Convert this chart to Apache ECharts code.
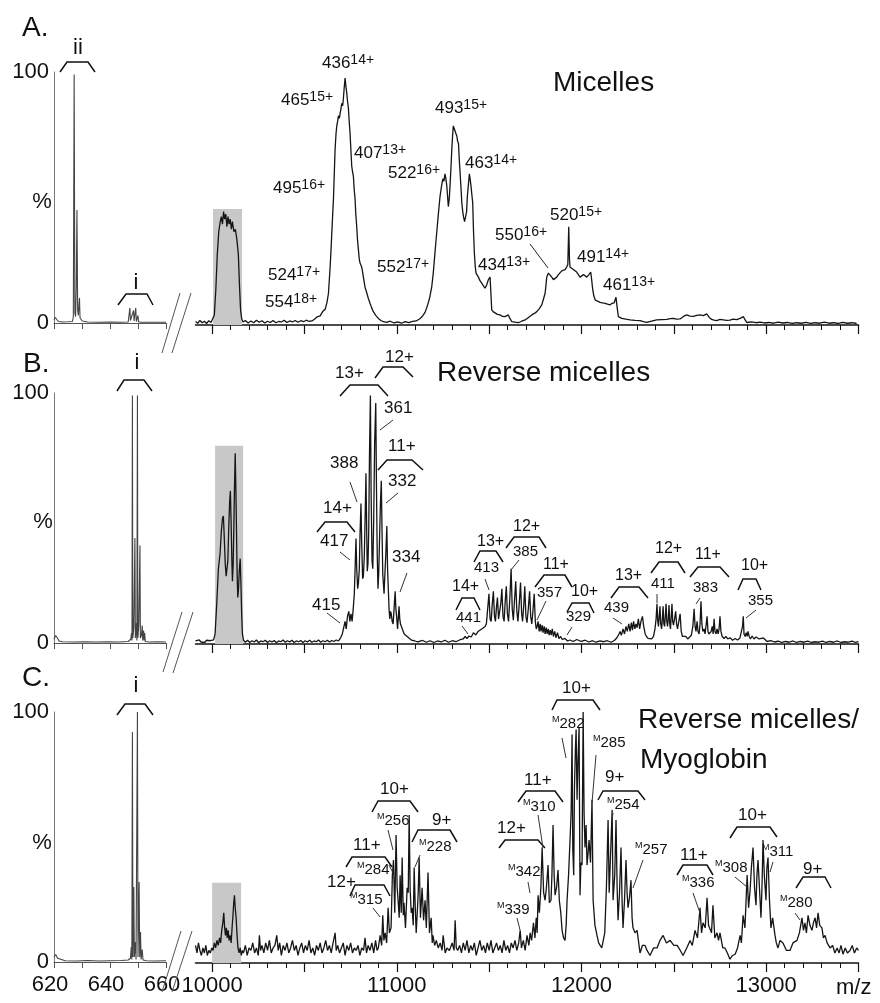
<!DOCTYPE html>
<html>
<head>
<meta charset="utf-8">
<script src="https://cdn.jsdelivr.net/npm/echarts@6.0.0/dist/echarts.min.js"></script>
<style>
html,body{margin:0;padding:0;background:#fff;}
#chart{width:880px;height:1003px;}
</style>
</head>
<body>
<div id="chart"></div>
<script>
// ---------------- DATA (m/z, relative intensity %) ----------------
const specA_left = [[620,1.2],[620.5,2.2],[621,1.4],[621.6,0.6],[623,0.4],[625,0.5],[626.6,0.6],[626.9,2.5],[627.2,99],[627.45,4],[627.7,2.5],[627.95,14],[628.2,45],[628.45,5],[628.7,3],[628.9,7],[629.1,10],[629.3,2],[629.7,1.5],[630.1,0.8],[632,0.4],[636,0.3],[640,0.4],[644,0.3],[646.5,0.4],[646.9,1],[647.1,6],[647.3,1],[648.0,1.5],[648.4,5],[648.6,0.8],[649.0,1],[649.2,6],[649.4,0.6],[649.8,1],[650.0,3],[650.2,0.5],[651,0.3],[655,0.3],[660,0.3]];
const specB_left = [[620,1.5],[620.6,3],[621.2,2],[621.8,0.8],[623,0.5],[627,0.4],[631,0.5],[635,0.4],[639,0.5],[643,0.4],[646.5,0.6],[647.4,1.5],[647.7,4],[647.85,1],[648.0,99],[648.15,2],[648.5,6],[648.9,42],[649.05,2],[649.4,8],[649.6,1],[649.8,99],[649.95,2],[650.3,7],[650.7,39],[650.85,2],[651.2,3],[651.5,7],[651.7,1],[652.0,5],[652.2,1],[652.4,4],[652.6,0.6],[654,0.4],[657,0.5],[660,0.4]];
const specC_left = [[620,2],[620.6,3],[621.3,1.5],[622,0.8],[624,0.5],[628,0.4],[632,0.6],[636,0.4],[640,0.5],[644,0.6],[646.5,0.8],[647.3,1.5],[647.6,6],[647.8,1],[648.0,92],[648.2,2],[648.5,30],[648.7,2],[649.1,8],[649.3,1],[649.8,100],[650.0,2],[650.4,32],[650.6,2],[650.9,12],[651.1,1],[651.5,5],[651.8,0.8],[653,0.5],[656,0.4],[660,0.5]];

const specA_right = [[9910,1.4],[9922,0.7],[9934,1.8],[9946,0.9],[9958,1.5],[9970,0.6],[9982,1.7],[9994,1.0],[10004,1.6],[10012,4],[10020,14],[10028,28],[10036,37],[10044,41],[10050,43],[10056,40],[10062,45],[10068,42],[10074,44],[10080,39],[10086,43],[10092,40],[10098,42],[10104,38],[10110,41],[10118,37],[10126,38],[10134,34],[10142,28],[10148,16],[10154,6],[10160,2.5],[10168,1.2],[10180,1.8],[10195,0.8],[10210,1.6],[10225,0.9],[10240,1.9],[10255,1.1],[10270,1.7],[10285,0.8],[10300,1.5],[10315,1.0],[10330,1.8],[10345,0.9],[10360,1.4],[10375,1.2],[10390,1.9],[10405,1.0],[10420,1.6],[10435,1.2],[10450,1.8],[10465,1.1],[10480,1.7],[10495,1.3],[10510,1.9],[10525,1.4],[10540,1.6],[10552,2.2],[10568,3.2],[10585,3.6],[10600,5.5],[10612,6.2],[10622,9],[10630,12.6],[10639,23],[10644,30],[10648,36.5],[10653,44],[10657,50],[10662,61],[10666,70],[10671,76],[10675,79],[10680,81],[10684,83],[10689,82],[10693,84],[10698,86],[10702,88],[10707,87],[10711,90],[10715,94],[10720,98],[10724,95],[10729,92],[10733,89],[10738,86],[10742,81],[10747,76],[10751,70],[10756,63],[10760,61],[10765,59],[10769,54],[10774,50],[10778,44],[10783,39],[10787,34],[10792,30],[10797,26],[10801,24.6],[10806,24],[10810,23],[10815,21],[10819,19],[10828,15],[10838,12.6],[10846,10.5],[10855,8.6],[10864,6.8],[10873,5.3],[10886,3.8],[10900,2.6],[10914,1.8],[10927,1.3],[10945,1.0],[10965,1.5],[10985,0.8],[11005,1.2],[11025,0.7],[11045,1.3],[11065,0.9],[11085,1.4],[11105,1.6],[11125,2.5],[11140,3.6],[11153,5],[11165,7.5],[11177,10.5],[11189,15],[11198,21],[11207,29],[11216,36.5],[11225,44],[11234,51],[11242,55],[11249,58],[11255,57],[11261,60],[11266,58],[11271,55],[11275,51],[11279,47],[11284,50],[11288,55],[11293,62],[11298,70],[11302,75],[11306,79],[11311,78],[11316,78],[11320,76],[11325,75],[11329,73],[11334,72],[11338,66],[11343,60],[11348,54],[11352,48.5],[11357,45],[11361,43],[11367,41],[11374,40.5],[11378,45],[11382,51],[11388,56],[11393,60],[11397,58],[11402,55],[11406,52],[11411,48.5],[11415,38],[11420,28.6],[11425,23],[11429,20.6],[11435,20],[11442,19],[11451,17.5],[11460,16.6],[11469,15.5],[11478,14.6],[11487,16],[11496,18],[11505,19],[11510,12],[11514,6],[11523,5.2],[11532,4.6],[11545,4.2],[11559,4],[11572,3.4],[11586,3.3],[11595,3.8],[11604,4],[11613,2.5],[11623,1.3],[11640,1.1],[11658,0.9],[11676,1.5],[11695,2],[11713,3],[11731,4],[11745,4.6],[11758,5.3],[11772,6.5],[11785,8],[11795,10.5],[11803,12.6],[11808,16],[11812,19],[11821,20.6],[11830,20.6],[11839,19],[11848,18],[11857,18.5],[11866,19],[11875,20],[11884,20.6],[11893,21.5],[11902,21],[11911,22],[11920,23],[11926,24],[11931,39],[11935,26],[11938,23],[11947,23],[11956,22],[11965,21.5],[11974,21],[11983,20],[11992,19],[12001,19.5],[12011,20],[12020,19.5],[12029,19],[12040,20],[12050,21],[12055,18],[12061,14],[12067,11.5],[12074,10],[12087,9.5],[12101,9],[12114,8.8],[12128,8.6],[12141,8.3],[12155,8],[12166,8.6],[12177,8.8],[12183,9.5],[12187,11],[12193,7],[12200,3.3],[12210,2.8],[12218,2.6],[12240,2.3],[12263,2],[12290,1.8],[12317,1.7],[12335,1.3],[12353,1],[12380,1.5],[12407,2],[12435,2.1],[12462,2.2],[12480,2.5],[12497,2.6],[12515,2.3],[12534,2.4],[12552,3.4],[12570,4],[12588,3.5],[12606,3.4],[12624,3.8],[12642,4],[12660,3.7],[12678,4.4],[12692,3],[12705,2.2],[12718,1.9],[12732,1.7],[12750,2.2],[12768,2],[12786,1.8],[12804,1.9],[12822,2.3],[12840,2.1],[12859,2.6],[12868,3],[12877,3.3],[12886,2],[12895,1],[12920,1.2],[12945,0.9],[12967,1.1],[12990,0.8],[13015,1.0],[13040,0.7],[13065,1.1],[13090,0.8],[13115,1.0],[13140,0.6],[13165,0.9],[13190,0.7],[13215,1.0],[13240,0.6],[13265,0.9],[13290,0.7],[13315,1.1],[13340,0.7],[13365,0.9],[13390,0.6],[13415,1.0],[13440,0.7],[13465,0.9],[13490,0.6]];

const specB_right = [[9910,1.2],[9920,0.5],[9930,1.6],[9940,0.8],[9950,1.4],[9960,0.6],[9970,1.5],[9980,0.9],[9990,1.3],[10000,0.8],[10008,1.6],[10016,4],[10025,16],[10034,30],[10043,36],[10050,45],[10056,50],[10061,51],[10066,42],[10071,32],[10076,27],[10080,26.5],[10085,33],[10090,46],[10095,57],[10099,61],[10103,48],[10107,33],[10110,25],[10114,32],[10118,48],[10121,62],[10125,76],[10129,60],[10133,40],[10136,26],[10139,18.5],[10143,22],[10147,29],[10152,34],[10156,24],[10160,12],[10164,4],[10170,1.5],[10180,0.7],[10192,1.5],[10204,0.6],[10216,1.3],[10228,0.8],[10240,1.6],[10252,0.5],[10264,1.2],[10276,0.9],[10288,1.5],[10300,0.6],[10312,1.3],[10324,0.8],[10336,1.4],[10348,0.5],[10360,1.2],[10372,0.9],[10384,1.6],[10396,0.7],[10408,1.3],[10420,0.8],[10432,1.5],[10444,0.6],[10456,1.2],[10468,0.9],[10480,1.4],[10492,0.6],[10504,1.3],[10516,0.8],[10528,1.5],[10540,0.7],[10552,1.2],[10564,0.9],[10576,1.6],[10588,0.7],[10600,1.3],[10612,0.9],[10624,1.5],[10636,0.8],[10648,1.4],[10660,1.0],[10672,1.6],[10684,1.2],[10694,2.2],[10705,4],[10714,7],[10720,9],[10726,6],[10733,11],[10740,13],[10746,9],[10752,12],[10758,9],[10764,14],[10770,20],[10775,32],[10779,42],[10783,30],[10788,22],[10792,24],[10797,30],[10801,44],[10806,56],[10810,40],[10815,26],[10819,27],[10824,35],[10829,52],[10833,68],[10837,45],[10840,29],[10844,32],[10848,45],[10852,75],[10857,99],[10861,60],[10866,33],[10870,30],[10875,50],[10880,80],[10886,96],[10890,62],[10894,36],[10898,22],[10902,28],[10906,40],[10911,55],[10916,65],[10920,45],[10924,28],[10931,20],[10935,27],[10940,35],[10946,47],[10950,30],[10954,22],[10958,14],[10962,10],[10966,13],[10970,12],[10975,9],[10980,8],[10986,15],[10991,21],[10995,14],[10999,11],[11004,6],[11008,10],[11012,15],[11016,10],[11020,8],[11025,7],[11030,6],[11035,5],[11040,4],[11048,3.5],[11056,3],[11066,2.5],[11080,1.5],[11095,1.3],[11110,0.9],[11121,1],[11140,1.4],[11160,0.7],[11180,1.3],[11200,0.6],[11220,1.2],[11240,0.8],[11260,1.5],[11280,0.7],[11300,1.3],[11320,0.9],[11340,1.6],[11359,2],[11370,3],[11380,2.2],[11391,3.2],[11403,2.8],[11415,4.5],[11428,3.6],[11440,5],[11450,4.4],[11460,6],[11470,5.5],[11478,7],[11485,8],[11492,14],[11499,20],[11505,10],[11511,9],[11517,16],[11523,21],[11529,11],[11534,9],[11540,15],[11545,18.5],[11551,10],[11557,9.5],[11563,16],[11569,22],[11575,11],[11581,9],[11587,17],[11593,23],[11599,12],[11605,9],[11612,18],[11619,30],[11625,14],[11631,9.5],[11637,17],[11644,25],[11650,13],[11656,9],[11663,16],[11670,24.5],[11676,12],[11681,9],[11687,15],[11693,23],[11699,11],[11705,8.5],[11712,14],[11719,21],[11725,11],[11731,8],[11737,13],[11744,20],[11750,9],[11755,6],[11760,7],[11765,9],[11771,5],[11776,8],[11781,5],[11787,7.5],[11792,4.5],[11798,7],[11803,4],[11809,6.5],[11814,4],[11820,6],[11825,3.5],[11831,5.5],[11836,3.5],[11842,6],[11848,3],[11855,5],[11862,2.5],[11870,4.5],[11878,2.2],[11887,3],[11896,1.8],[11910,2.2],[11925,1.2],[11938,1.6],[11955,1.0],[11975,1.8],[11998,1.0],[12020,1.5],[12040,0.8],[12060,1.3],[12079,0.7],[12100,1.2],[12120,0.9],[12140,1.3],[12160,0.7],[12178,1.4],[12192,2.5],[12203,4],[12209,5],[12216,3.5],[12225,6],[12233,4],[12241,7],[12248,5],[12256,8],[12263,5],[12270,8.5],[12276,5.5],[12282,9],[12289,6],[12295,8],[12301,6.5],[12308,10],[12315,6],[12322,9],[12330,11],[12337,7],[12345,4],[12352,3],[12360,2.2],[12370,2.6],[12380,2],[12390,3],[12398,6],[12404,10],[12409,16],[12413,9],[12417,7],[12421,11],[12425,15],[12429,8],[12434,6],[12438,10],[12442,15],[12446,8],[12450,7],[12454,11],[12458,16],[12462,9],[12466,7],[12470,10],[12474,15.5],[12478,8],[12482,6],[12486,11],[12490,16],[12494,9],[12498,7.5],[12504,10],[12510,13],[12515,8],[12520,6],[12527,9],[12534,12],[12540,5],[12547,3],[12555,2.5],[12565,3],[12575,2],[12585,2.4],[12595,3.5],[12603,7],[12610,14],[12615,7],[12620,5],[12626,9],[12631,5],[12637,4],[12642,8],[12647,17],[12652,8],[12657,5],[12664,6],[12669,4],[12674,7],[12680,11],[12685,5],[12690,4],[12696,3.5],[12702,5],[12708,7],[12713,4],[12718,10],[12723,5],[12729,4],[12734,6],[12740,4],[12745,6],[12750,11],[12755,5],[12762,3],[12772,2.2],[12782,3],[12792,2],[12804,2.5],[12818,1.5],[12832,2.2],[12845,1.6],[12858,2.4],[12866,3],[12872,7],[12876,11],[12880,4],[12886,3],[12892,4.5],[12897,3],[12902,5],[12908,3],[12915,2],[12924,3.2],[12934,2],[12945,2.8],[12962,2],[12985,2.4],[13005,1.0],[13025,1.3],[13045,0.8],[13065,1.1],[13085,0.6],[13105,1.0],[13125,0.7],[13145,1.2],[13165,0.6],[13185,1.0],[13205,0.7],[13225,1.1],[13245,0.6],[13265,0.9],[13285,0.7],[13305,1.1],[13325,0.6],[13345,1.0],[13365,0.7],[13385,1.2],[13405,0.6],[13425,0.9],[13445,0.7],[13465,1.1],[13485,0.6],[13500,0.9]];

const specC_right = [[9910,7],[9918,4],[9926,8],[9934,5],[9942,3],[9950,6],[9958,4],[9966,7],[9974,3],[9982,5],[9990,4],[9998,6],[10005,5],[10012,8],[10019,6],[10026,9],[10033,7],[10040,10],[10046,8],[10052,13],[10058,16],[10063,20],[10067,15],[10072,11],[10077,14],[10082,10],[10087,13],[10092,9],[10098,11],[10103,8],[10108,14],[10113,19],[10117,24],[10121,27],[10125,22],[10130,18],[10135,11],[10140,6],[10146,4],[10152,6],[10158,3],[10164,5],[10170,4],[10180,7],[10190,3],[10200,6],[10210,5],[10220,8],[10230,4],[10240,6],[10250,3],[10256,11],[10262,5],[10270,7],[10280,4],[10290,8],[10300,5],[10310,9],[10320,4],[10330,6],[10340,7],[10350,11],[10358,5],[10366,8],[10375,3],[10385,7],[10395,5],[10405,8],[10415,4],[10425,6],[10435,9],[10445,5],[10455,7],[10465,3],[10475,6],[10485,8],[10495,4],[10505,7],[10515,5],[10525,9],[10535,4],[10545,6],[10555,3],[10565,7],[10575,5],[10585,8],[10595,4],[10605,6],[10615,9],[10625,5],[10635,7],[10645,4],[10655,8],[10666,12],[10672,5],[10680,7],[10690,4],[10700,6],[10710,8],[10720,3],[10730,7],[10740,5],[10750,8],[10760,4],[10770,6],[10780,5],[10790,7],[10800,3],[10810,6],[10820,5],[10828,10],[10836,4],[10845,7],[10855,5],[10865,8],[10875,4],[10885,9],[10893,5],[10900,6],[10910,11],[10918,7],[10924,19],[10930,9],[10937,12],[10945,8],[10953,22],[10960,12],[10969,14],[10976,35],[10982,41],[10989,20],[10996,51],[11002,30],[11007,25],[11013,18],[11018,35],[11024,20],[11029,42],[11035,19],[11039,24],[11047,14],[11056,30],[11062,28],[11067,59],[11072,30],[11078,20],[11083,22],[11089,15],[11094,38],[11100,22],[11105,12],[11110,19],[11116,28],[11121,42],[11128,18],[11137,30],[11145,17],[11153,25],[11160,14],[11169,36],[11177,12],[11186,18],[11192,8],[11196,11],[11205,7],[11214,9],[11224,6],[11235,8],[11245,5],[11251,11],[11262,4],[11272,6],[11285,5],[11300,8],[11310,5],[11316,17],[11322,6],[11330,5],[11340,7],[11350,4],[11360,8],[11370,5],[11380,9],[11390,4],[11400,7],[11410,5],[11420,8],[11430,3],[11440,6],[11450,9],[11460,5],[11470,7],[11480,4],[11490,8],[11500,5],[11510,9],[11520,4],[11530,6],[11540,8],[11550,5],[11560,7],[11570,4],[11580,9],[11590,5],[11600,7],[11610,4],[11620,8],[11630,6],[11640,9],[11650,5],[11660,8],[11668,13],[11675,6],[11685,9],[11695,5],[11705,11],[11715,7],[11722,12],[11730,9],[11740,16],[11748,10],[11755,18],[11760,12],[11765,27],[11772,20],[11780,30],[11787,46],[11795,28],[11803,25],[11810,30],[11819,39],[11826,24],[11835,25],[11840,35],[11846,55],[11852,35],[11857,27],[11865,30],[11873,37],[11880,25],[11888,20],[11895,13],[11903,10],[11911,9],[11917,15],[11922,25],[11930,35],[11938,49],[11944,60],[11949,91],[11953,45],[11958,35],[11962,70],[11967,85],[11971,93],[11976,65],[11981,80],[11987,94],[11992,27],[11997,40],[12003,39],[12009,100],[12014,60],[12019,46],[12025,55],[12030,39],[12036,44],[12041,49],[12049,40],[12057,65],[12063,25],[12073,15],[12084,11],[12093,8],[12101,7],[12110,6],[12117,6],[12126,12],[12135,30],[12144,57],[12150,28],[12156,40],[12166,61],[12171,25],[12180,35],[12187,57],[12193,30],[12198,17],[12206,28],[12214,46],[12220,24],[12225,14],[12233,25],[12241,41],[12247,28],[12252,22],[12260,26],[12268,33],[12274,18],[12279,14],[12290,12],[12301,13],[12310,8],[12317,4],[12330,7],[12344,7],[12355,5],[12371,3],[12390,6],[12409,6],[12425,9],[12442,11],[12460,8],[12480,9],[12500,7],[12518,7],[12535,5],[12550,3],[12570,6],[12588,9],[12600,7],[12615,13],[12628,10],[12642,22],[12650,12],[12658,16],[12670,14],[12680,26],[12688,15],[12696,15],[12704,12],[12712,23],[12722,10],[12734,12],[12742,9],[12750,12],[12765,6],[12777,6],[12790,4],[12804,1.5],[12818,3],[12832,3.5],[12845,6],[12859,11],[12866,8],[12875,19],[12885,14],[12897,35],[12905,22],[12913,29],[12920,38],[12929,46],[12937,30],[12945,23],[12950,35],[12956,41],[12965,28],[12972,18],[12978,32],[12983,49],[12990,35],[12999,25],[13004,38],[13010,42],[13018,25],[13026,14],[13035,18],[13048,11],[13055,8],[13064,6],[13075,9],[13091,8],[13110,5],[13129,5],[13145,8],[13167,9],[13180,12],[13194,18],[13202,13],[13210,16],[13218,12],[13227,19],[13237,15],[13248,13],[13256,16],[13265,18],[13273,14],[13281,20],[13290,15],[13302,14],[13310,10],[13319,11],[13330,8],[13346,6],[13360,7],[13372,4],[13384,6],[13395,4],[13405,7],[13416,3.5],[13428,6],[13440,4],[13454,5],[13466,7],[13478,4],[13490,6],[13500,5]];

// shaded boxes: [from m/z, to m/z, top %]
const boxA = [10005, 10162, 46];
const boxB = [10016, 10168, 79];
const boxC = [10000, 10157, 32];

// tick values / labels
const leftTickLabels = [620, 640, 660];
const rightTickLabels = [10000, 11000, 12000, 13000];
const rightMajorTicks = [10000, 10500, 11000, 11500, 12000, 12500, 13000, 13500];
const rightMinorTicks = [];
for (let v = 10000; v <= 13500; v += 100) rightMinorTicks.push(v);

// ---------------- LAYOUT ----------------
const FONT = '"Liberation Sans", Arial, Helvetica, sans-serif';
const grids = [
  {left: 54, top: 72, width: 112, height: 251},
  {left: 195.5, top: 73, width: 663, height: 252},
  {left: 54, top: 393, width: 112, height: 250},
  {left: 195.5, top: 393, width: 663, height: 251},
  {left: 54, top: 712, width: 112, height: 250},
  {left: 195.5, top: 712, width: 663, height: 251}
];

const xAxes = [];
const yAxes = [];
for (let p = 0; p < 3; p++) {
  const isBottom = p === 2;
  xAxes.push({
    gridIndex: p * 2, type: 'value', min: 620, max: 660, interval: 10, position: 'bottom',
    axisLine: {lineStyle: {color: '#555', width: 1}},
    axisTick: {length: 6, lineStyle: {color: '#555', width: 1}},
    axisLabel: {show: isBottom, fontSize: 22, fontFamily: FONT, color: '#111', margin: 12,
      padding: [0, 8, 0, 0],
      formatter: v => leftTickLabels.indexOf(v) >= 0 ? String(v) : ''},
    splitLine: {show: false}
  });
  xAxes.push({
    gridIndex: p * 2 + 1, type: 'value', min: 9910, max: 13500, position: 'bottom',
    axisLine: {lineStyle: {color: '#111', width: 1.5}},
    axisTick: {customValues: rightMajorTicks, length: 9, lineStyle: {color: '#111', width: 1.2}},
    axisLabel: {show: isBottom, customValues: rightTickLabels, fontSize: 22, fontFamily: FONT, color: '#111', margin: 12,
      formatter: v => String(v)},
    splitLine: {show: false}
  });
  yAxes.push({
    gridIndex: p * 2, type: 'value', min: 0, max: 100, interval: 100,
    axisLine: {show: true, lineStyle: {color: '#777', width: 1}},
    axisTick: {show: false},
    axisLabel: {fontSize: 22, fontFamily: FONT, color: '#111', margin: 5},
    splitLine: {show: false}
  });
  yAxes.push({gridIndex: p * 2 + 1, type: 'value', min: 0, max: 100, show: false, splitLine: {show: false}});
}
for (let p = 0; p < 3; p++) {
  xAxes.push({
    gridIndex: p * 2 + 1, type: 'value', min: 9910, max: 13500, position: 'bottom',
    axisLine: {show: false},
    axisTick: {customValues: rightMinorTicks, length: 5, lineStyle: {color: '#111', width: 1}},
    axisLabel: {show: false},
    splitLine: {show: false}
  });
}

function specSeries(data, axis, color, w) {
  return {type: 'line', xAxisIndex: axis, yAxisIndex: axis, data: data, showSymbol: false, symbol: 'none',
    sampling: 'none', z: 3, silent: true, lineStyle: {color: color, width: w}};
}
function boxSeries(box, axis) {
  return {type: 'line', xAxisIndex: axis, yAxisIndex: axis, data: [[box[0], 0]], showSymbol: false, symbol: 'none',
    z: 1, silent: true, lineStyle: {width: 0, opacity: 0},
    markArea: {silent: true, itemStyle: {color: '#c8c8c8', opacity: 1},
      data: [[{coord: [box[0], 0]}, {coord: [box[1], box[2]]}]]}};
}

const series = [
  boxSeries(boxA, 1), boxSeries(boxB, 3), boxSeries(boxC, 5),
  specSeries(specA_left, 0, '#444', 1.1), specSeries(specA_right, 1, '#151515', 1.3),
  specSeries(specB_left, 2, '#444', 1.1), specSeries(specB_right, 3, '#151515', 1.3),
  specSeries(specC_left, 4, '#444', 1.1), specSeries(specC_right, 5, '#151515', 1.3)
];

// ---------------- ANNOTATIONS (pixel layout) ----------------
const G = [];
function text(t, x, y, size, align) {
  G.push({type: 'text', x: x, y: y, z: 10, silent: true,
    style: {text: t, fontSize: size, fontFamily: FONT, fill: '#111',
      align: align || 'left', verticalAlign: 'middle', textAlign: align || 'left', textVerticalAlign: 'middle'}});
}
function supText(x, y, num, sup) {
  G.push({type: 'text', x: x, y: y, z: 10, silent: true,
    style: {text: '{n|' + num + '}{s|' + sup + '}', fill: '#111', align: 'left', verticalAlign: 'middle',
      textAlign: 'left', textVerticalAlign: 'middle',
      rich: {n: {fontSize: 17, fontFamily: FONT, fill: '#111', lineHeight: 20},
             s: {fontSize: 14, fontFamily: FONT, fill: '#111', lineHeight: 12, verticalAlign: 'top'}}}});
}
function mText(x, y, num) {
  G.push({type: 'text', x: x, y: y, z: 10, silent: true,
    style: {text: '{m|M}{n|' + num + '}', fill: '#111', align: 'left', verticalAlign: 'middle',
      textAlign: 'left', textVerticalAlign: 'middle',
      rich: {m: {fontSize: 9, fontFamily: FONT, fill: '#111', lineHeight: 10, verticalAlign: 'top'},
             n: {fontSize: 15, fontFamily: FONT, fill: '#111', lineHeight: 18}}}});
}
function poly(pts, w) {
  G.push({type: 'polyline', z: 10, silent: true, shape: {points: pts}, style: {stroke: '#111', lineWidth: w || 1.5, fill: null}});
}
function seg(a, w, c) {
  G.push({type: 'line', z: 10, silent: true, shape: {x1: a[0], y1: a[1], x2: a[2], y2: a[3]}, style: {stroke: c || '#222', lineWidth: w || 1}});
}

// panel letters and titles
text('A.', 22, 28, 28); text('B.', 23, 364, 28); text('C.', 22, 678, 28);
text('Micelles', 553, 83, 28);
text('Reverse micelles', 437, 373, 28);
text('Reverse micelles/', 638, 720, 28);
text('Myoglobin', 640, 760, 28);
text('%', 42, 202, 22, 'center'); text('%', 43, 522, 22, 'center'); text('%', 42, 843, 22, 'center');
text('m/z', 836, 988, 22);
text('ii', 78, 48, 22, 'center'); text('i', 136, 283, 22, 'center');
text('i', 137, 363, 22, 'center'); text('i', 136, 686, 22, 'center');

// axis break marks
[[162,353,180,293],[172,353,191,293],[163,672,182,612],[173,673,193,612],[162,992,181,931],[172,992,192,931]]
  .forEach(s => seg(s, 1, '#555'));

// Panel A labels
[[322,63,'436','14+'],[281,100,'465','15+'],[273,188,'495','16+'],[354,153,'407','13+'],[388,173,'522','16+'],
 [268,275,'524','17+'],[265,302,'554','18+'],[377,267,'552','17+'],[435,108,'493','15+'],[465,163,'463','14+'],
 [478,265,'434','13+'],[495,235,'550','16+'],[550,215,'520','15+'],[577,257,'491','14+'],[603,285,'461','13+']]
  .forEach(a => supText(a[0], a[1], a[2], a[3]));
seg([530,244,548,268]);

// Panel B labels
[['13+',335,373,17],['12+',385,357,17],['361',384,408,17],['11+',388,446,17],['388',330,463,17],['332',388,481,17],
 ['14+',323,508,17],['417',320,541,17],['334',392,557,17],['415',312,605,17],
 ['14+',452,587,16],['441',456,618,15],['13+',477,542,16],['413',474,568,15],['12+',513,527,16],['385',513,552,15],
 ['11+',543,565,16],['357',537,593,15],['10+',571,592,16],['329',566,617,15],['13+',615,576,16],['439',604,608,15],
 ['12+',655,549,16],['411',651,584,15],['11+',695,555,16],['383',693,588,15],['10+',741,566,16],['355',748,601,15]]
  .forEach(a => text(a[0], a[1], a[2], a[3]));

// Panel C labels
[['10+',380,789],['9+',432,820],['11+',353,845],['12+',327,882],['12+',497,828],['11+',524,780],['10+',562,688],
 ['9+',605,777],['11+',680,855],['10+',738,815],['9+',803,869]].forEach(a => text(a[0], a[1], a[2], 17));
[['256',377,821],['228',419,847],['284',357,870],['315',350,900],['342',508,872],['339',497,910],['310',523,807],
 ['282',552,724],['285',593,743],['254',607,805],['257',635,850],['336',682,883],['308',715,868],['311',762,852],['280',780,903]]
  .forEach(a => mText(a[1], a[2], a[0]));

// charge-state brackets
[
 [[60,72],[67,62],[88,62],[95,72]],
 [[118,305],[126,294],[147,294],[153,305]],
 [[117,391],[124,380],[144,380],[152,391]],
 [[340,396],[350,385],[378,385],[388,396]],
 [[375,378],[383,367],[403,367],[413,377]],
 [[378,470],[387,460],[412,460],[423,470]],
 [[317,532],[325,522],[347,522],[355,532]],
 [[456,610],[462,598],[474,598],[480,610]],
 [[474,562],[480,551],[496,551],[503,562]],
 [[506,548],[514,537],[539,537],[546,548]],
 [[535,587],[544,575],[565,575],[572,587]],
 [[567,612],[572,603],[589,603],[594,613]],
 [[611,598],[619,587],[639,587],[648,598]],
 [[651,573],[659,562],[678,562],[685,573]],
 [[690,577],[698,567],[720,567],[729,577]],
 [[738,590],[743,579],[756,579],[761,590]],
 [[117,715],[125,704],[145,704],[153,715]],
 [[372,812],[378,801],[410,801],[418,812]],
 [[412,842],[418,830],[450,830],[457,842]],
 [[346,867],[352,857],[385,857],[392,867]],
 [[350,896],[355,885],[384,885],[390,896]],
 [[499,848],[505,840],[538,840],[545,848]],
 [[518,802],[526,791],[555,791],[563,802]],
 [[552,710],[557,700],[593,700],[600,710]],
 [[598,800],[603,791],[638,791],[645,800]],
 [[677,875],[683,865],[707,865],[713,875]],
 [[730,838],[737,827],[770,827],[777,837]],
 [[796,888],[803,877],[825,877],[831,888]]
].forEach(p => poly(p, 1.5));

// leader lines
[[393,420,380,430],[350,482,357,502],[398,493,386,503],[340,552,350,560],[407,573,400,592],[327,613,340,623],
 [462,626,468,634],[485,579,489,590],[519,560,511,570],[546,601,537,620],[572,627,567,635],[613,618,622,624],
 [657,594,657,603],[700,598,696,604],[756,610,746,618],
 [388,830,393,850],[420,855,415,867],[389,865,393,873],[373,908,380,917],[528,882,530,893],[517,918,520,930],
 [538,815,543,848],[562,738,566,758],[596,755,592,803],[613,813,612,820],[643,860,633,888],[693,893,700,913],
 [735,877,747,887],[773,862,770,872],[795,913,800,920]].forEach(s => seg(s, 1, '#333'));

const chart = echarts.init(document.getElementById('chart'), null, {renderer: 'canvas'});
chart.setOption({
  animation: false,
  backgroundColor: '#fff',
  textStyle: {fontFamily: FONT},
  grid: grids,
  xAxis: xAxes,
  yAxis: yAxes,
  series: series,
  graphic: {elements: G}
});
</script>
</body>
</html>
